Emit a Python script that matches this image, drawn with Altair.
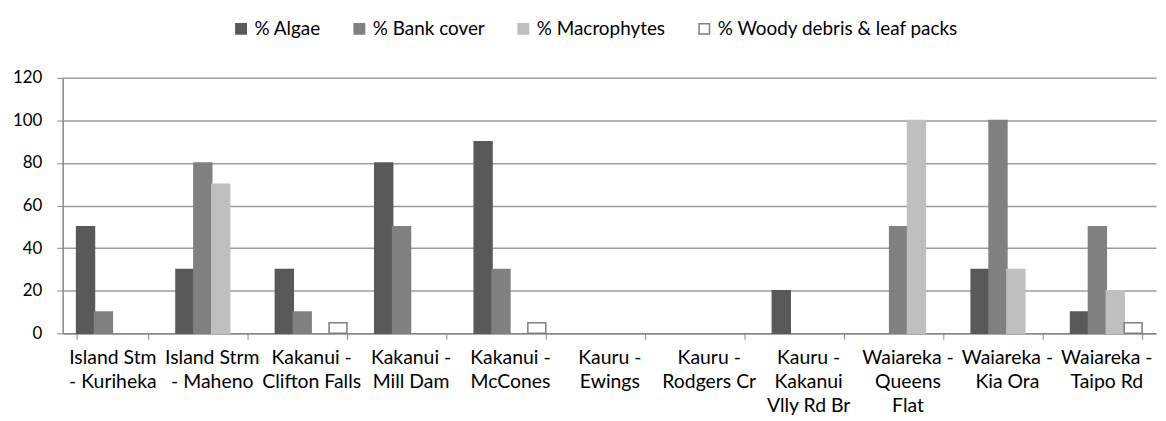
import altair as alt
import pandas as pd

categories = [
    "Island Stm\n- Kuriheka",
    "Island Strm\n- Maheno",
    "Kakanui -\nClifton Falls",
    "Kakanui -\nMill Dam",
    "Kakanui -\nMcCones",
    "Kauru -\nEwings",
    "Kauru -\nRodgers Cr",
    "Kauru -\nKakanui\nVlly Rd Br",
    "Waiareka -\nQueens\nFlat",
    "Waiareka -\nKia Ora",
    "Waiareka -\nTaipo Rd",
]
series = ["% Algae", "% Bank cover", "% Macrophytes", "% Woody debris & leaf packs"]
algae = [50, 30, 30, 80, 90, 0, 0, 20, 0, 30, 10]
bank = [10, 80, 10, 50, 30, 0, 0, 0, 50, 100, 50]
macro = [0, 70, 0, 0, 0, 0, 0, 0, 100, 30, 20]
woody = [0, 0, 5, 0, 5, 0, 0, 0, 0, 0, 5]
fills = ["#595959", "#808080", "#BFBFBF", "#FFFFFF"]
strokes = ["#595959", "#808080", "#BFBFBF", "#7F7F7F"]
y_ticks = [0, 20, 40, 60, 80, 100, 120]

rows = []
for s, vals in zip(series, [algae, bank, macro, woody]):
    for c, v in zip(categories, vals):
        rows.append({"site": c, "series": s, "value": v})
df = pd.DataFrame(rows)

FONT = "Lato"

chart = alt.Chart(df).transform_filter(
    alt.datum.value > 0
).mark_bar(strokeWidth=1.5).encode(
    x=alt.X("site:N", sort=categories, title=None,
            scale=alt.Scale(domain=categories, paddingInner=0.28, paddingOuter=0.14),
            axis=alt.Axis(labelAngle=0,
                          labelExpr="isValid(datum.value) ? split(datum.value, '\\n') : ''",
                          tickBand="extent", labelFontSize=19.5, labelFont=FONT,
                          labelColor="#000000", labelLineHeight=24.5,
                          labelPadding=9, tickSize=6, tickColor="#868686",
                          domainColor="#868686", domainWidth=1.5, grid=False,
                          labelLimit=200)),
    xOffset=alt.XOffset("series:N", sort=series,
                        scale=alt.Scale(domain=series, paddingInner=0, paddingOuter=0)),
    y=alt.Y("value:Q", title=None,
            scale=alt.Scale(domain=[0, 120], nice=False),
            axis=alt.Axis(values=y_ticks, labelFontSize=17, labelFont=FONT,
                          labelColor="#000000", labelPadding=15, tickSize=6,
                          tickColor="#868686", domainColor="#868686", domainWidth=1.5,
                          gridColor="#9C9C9C", gridWidth=1.5)),
    fill=alt.Fill("series:N", sort=series, title=None,
                  scale=alt.Scale(domain=series, range=fills),
                  legend=alt.Legend(orient="none", legendX=170, legendY=-59,
                                    direction="horizontal", symbolType="square",
                                    symbolSize=110, symbolStrokeWidth=1.5,
                                    labelFontSize=19, labelFont=FONT,
                                    labelColor="#000000", columnPadding=29,
                                    labelOffset=4, labelLimit=500)),
    stroke=alt.Stroke("series:N", sort=series, title=None,
                      scale=alt.Scale(domain=series, range=strokes)),
).properties(
    width=1100, height=257,
    autosize=alt.AutoSizeParams(type="none"),
    padding={"left": 55, "top": 69, "right": 2, "bottom": 87},
).configure_view(stroke=None)

chart.save("out.html", embed_options={"renderer": "svg", "actions": False})
